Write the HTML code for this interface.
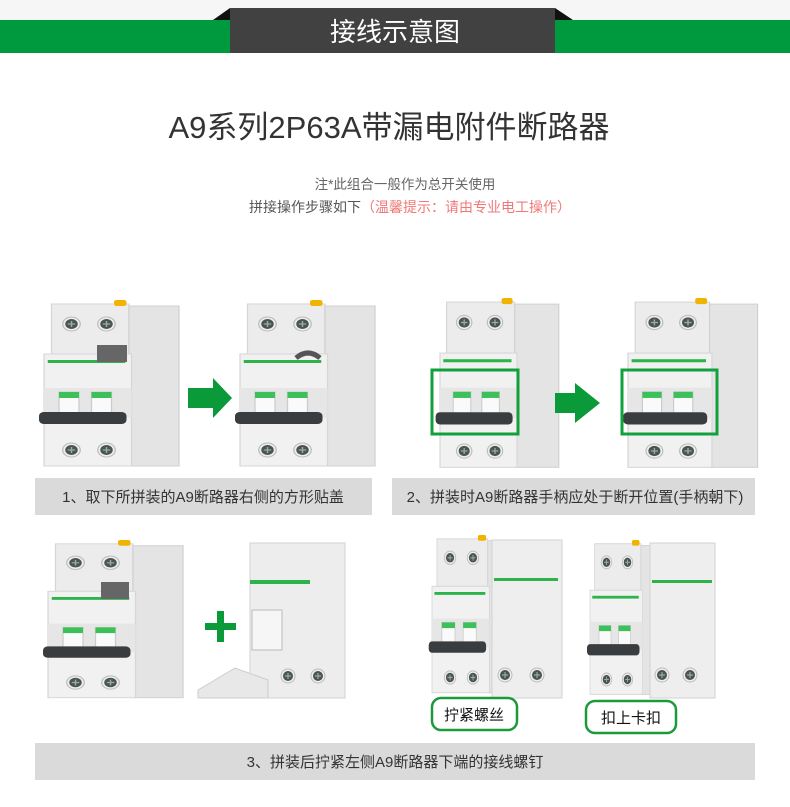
<!DOCTYPE html>
<html><head><meta charset="utf-8"><style>
html,body{margin:0;padding:0;background:#fff}
svg{display:block}
text{font-family:"Liberation Sans","Noto Sans CJK SC",sans-serif}
</style></head><body>
<svg width="790" height="807" viewBox="0 0 790 807" xmlns="http://www.w3.org/2000/svg">
<defs>
<g id="scr"><circle r="7" fill="#eee" stroke="#bbb"/><circle r="5" fill="#4a5550"/><path d="M-3 0H3M0-3V3" stroke="#9aa" stroke-width="1.2"/></g>
<g id="brk">
 <rect x="6" y="4" width="62" height="50" fill="#ececec" stroke="#d6d6d6"/>
 <use href="#scr" x="22" y="24"/><use href="#scr" x="50" y="24"/>
 <rect x="68" y="6" width="40" height="160" fill="#e4e4e4" stroke="#d0d0d0"/>
 <rect x="0" y="54" width="70" height="112" fill="#f1f1f1" stroke="#d6d6d6"/>
 <rect x="3" y="60" width="62" height="3" fill="#2db34a"/>
 <rect x="0" y="88" width="70" height="30" fill="#e6e6e6"/>
 <rect x="12" y="92" width="16" height="24" fill="#fafafa" stroke="#ccc"/><rect x="12" y="92" width="16" height="6" fill="#3cc05a"/>
 <rect x="38" y="92" width="16" height="24" fill="#fafafa" stroke="#ccc"/><rect x="38" y="92" width="16" height="6" fill="#3cc05a"/>
 <rect x="-4" y="112" width="70" height="12" rx="4" fill="#3a3d3f"/>
 <use href="#scr" x="22" y="150"/><use href="#scr" x="50" y="150"/>
 <rect x="56" y="0" width="10" height="6" rx="2" fill="#f0b400"/>
</g>
</defs>
<rect width="790" height="807" fill="#fff"/>
<rect width="790" height="20" fill="#f6f6f6"/>
<rect y="20" width="790" height="33" fill="#009a3e"/>
<polygon points="213,20 230,8 230,20" fill="#111"/>
<polygon points="555,8 573,20 555,20" fill="#111"/>
<rect x="230" y="8" width="325" height="45" fill="#414141"/>
<text x="395" y="41" font-size="26" fill="#fff" text-anchor="middle">接线示意图</text>

<text x="389" y="138" font-size="31" fill="#333" text-anchor="middle">A9系列2P63A带漏电附件断路器</text>
<text x="405" y="189" font-size="13.5" fill="#666" text-anchor="middle">注*此组合一般作为总开关使用</text>
<text x="249" y="212" font-size="14" fill="#555">拼接操作步骤如下<tspan fill="#f07878">（温馨提示：请由专业电工操作）</tspan></text>

<use href="#brk" transform="translate(44,300) scale(1.25,1)"/>
<rect x="97" y="345" width="30" height="17" fill="#666"/>
<polygon points="188,388 213,388 213,378 232,398 213,418 213,408 188,408" fill="#0a9a3a"/>
<use href="#brk" transform="translate(240,300) scale(1.25,1)"/>
<path d="M296 358 Q308 348 320 358" stroke="#555" stroke-width="5" fill="none"/>

<use href="#brk" transform="translate(440,298) scale(1.1,1.02)"/>
<rect x="432" y="370" width="86" height="64" fill="none" stroke="#12a03c" stroke-width="3"/>
<polygon points="555,393 575,393 575,383 600,403 575,423 575,413 555,413" fill="#0a9a3a"/>
<use href="#brk" transform="translate(628,298) scale(1.2,1.02)"/>
<rect x="622" y="370" width="95" height="64" fill="none" stroke="#12a03c" stroke-width="3"/>

<rect x="35" y="478" width="337" height="37" fill="#dadada"/>
<text x="203" y="502" font-size="15" fill="#333" text-anchor="middle">1、取下所拼装的A9断路器右侧的方形贴盖</text>
<rect x="392" y="478" width="363" height="37" fill="#dadada"/>
<text x="575" y="502" font-size="15" fill="#333" text-anchor="middle">2、拼装时A9断路器手柄应处于断开位置(手柄朝下)</text>

<use href="#brk" transform="translate(48,540) scale(1.25,0.95)"/>
<rect x="101" y="582" width="28" height="17" fill="#666"/>
<rect x="205" y="623" width="31" height="7" fill="#0a9a3a"/><rect x="217" y="611" width="7" height="31" fill="#0a9a3a"/>
<rect x="250" y="543" width="95" height="155" fill="#ededed" stroke="#d2d2d2"/>
<rect x="250" y="580" width="60" height="4" fill="#2db34a"/>
<rect x="252" y="610" width="30" height="40" fill="#f6f6f6" stroke="#bbb"/>
<use href="#scr" x="288" y="676"/><use href="#scr" x="318" y="676"/>
<polygon points="198,690 235,668 268,680 268,698 198,698" fill="#e8e8e8" stroke="#ccc"/>

<use href="#brk" transform="translate(432,535) scale(0.82,0.95)"/>
<rect x="492" y="540" width="70" height="158" fill="#eeeeee" stroke="#d2d2d2"/>
<rect x="494" y="578" width="64" height="3" fill="#2db34a"/>
<use href="#scr" x="505" y="675"/><use href="#scr" x="537" y="675"/>
<use href="#brk" transform="translate(590,540) scale(0.75,0.93)"/>
<rect x="650" y="543" width="65" height="155" fill="#eeeeee" stroke="#d2d2d2"/>
<rect x="652" y="580" width="60" height="3" fill="#2db34a"/>
<use href="#scr" x="662" y="675"/><use href="#scr" x="690" y="675"/>

<rect x="432" y="698" width="85" height="32" rx="9" fill="#fff" stroke="#1a9a3a" stroke-width="2.5"/>
<text x="474" y="720" font-size="15" fill="#111" text-anchor="middle">拧紧螺丝</text>
<rect x="586" y="701" width="90" height="32" rx="9" fill="#fff" stroke="#1a9a3a" stroke-width="2.5"/>
<text x="631" y="723" font-size="15" fill="#111" text-anchor="middle">扣上卡扣</text>

<rect x="35" y="743" width="720" height="37" fill="#dadada"/>
<text x="395" y="767" font-size="15" fill="#333" text-anchor="middle">3、拼装后拧紧左侧A9断路器下端的接线螺钉</text>
</svg>
</body></html>
